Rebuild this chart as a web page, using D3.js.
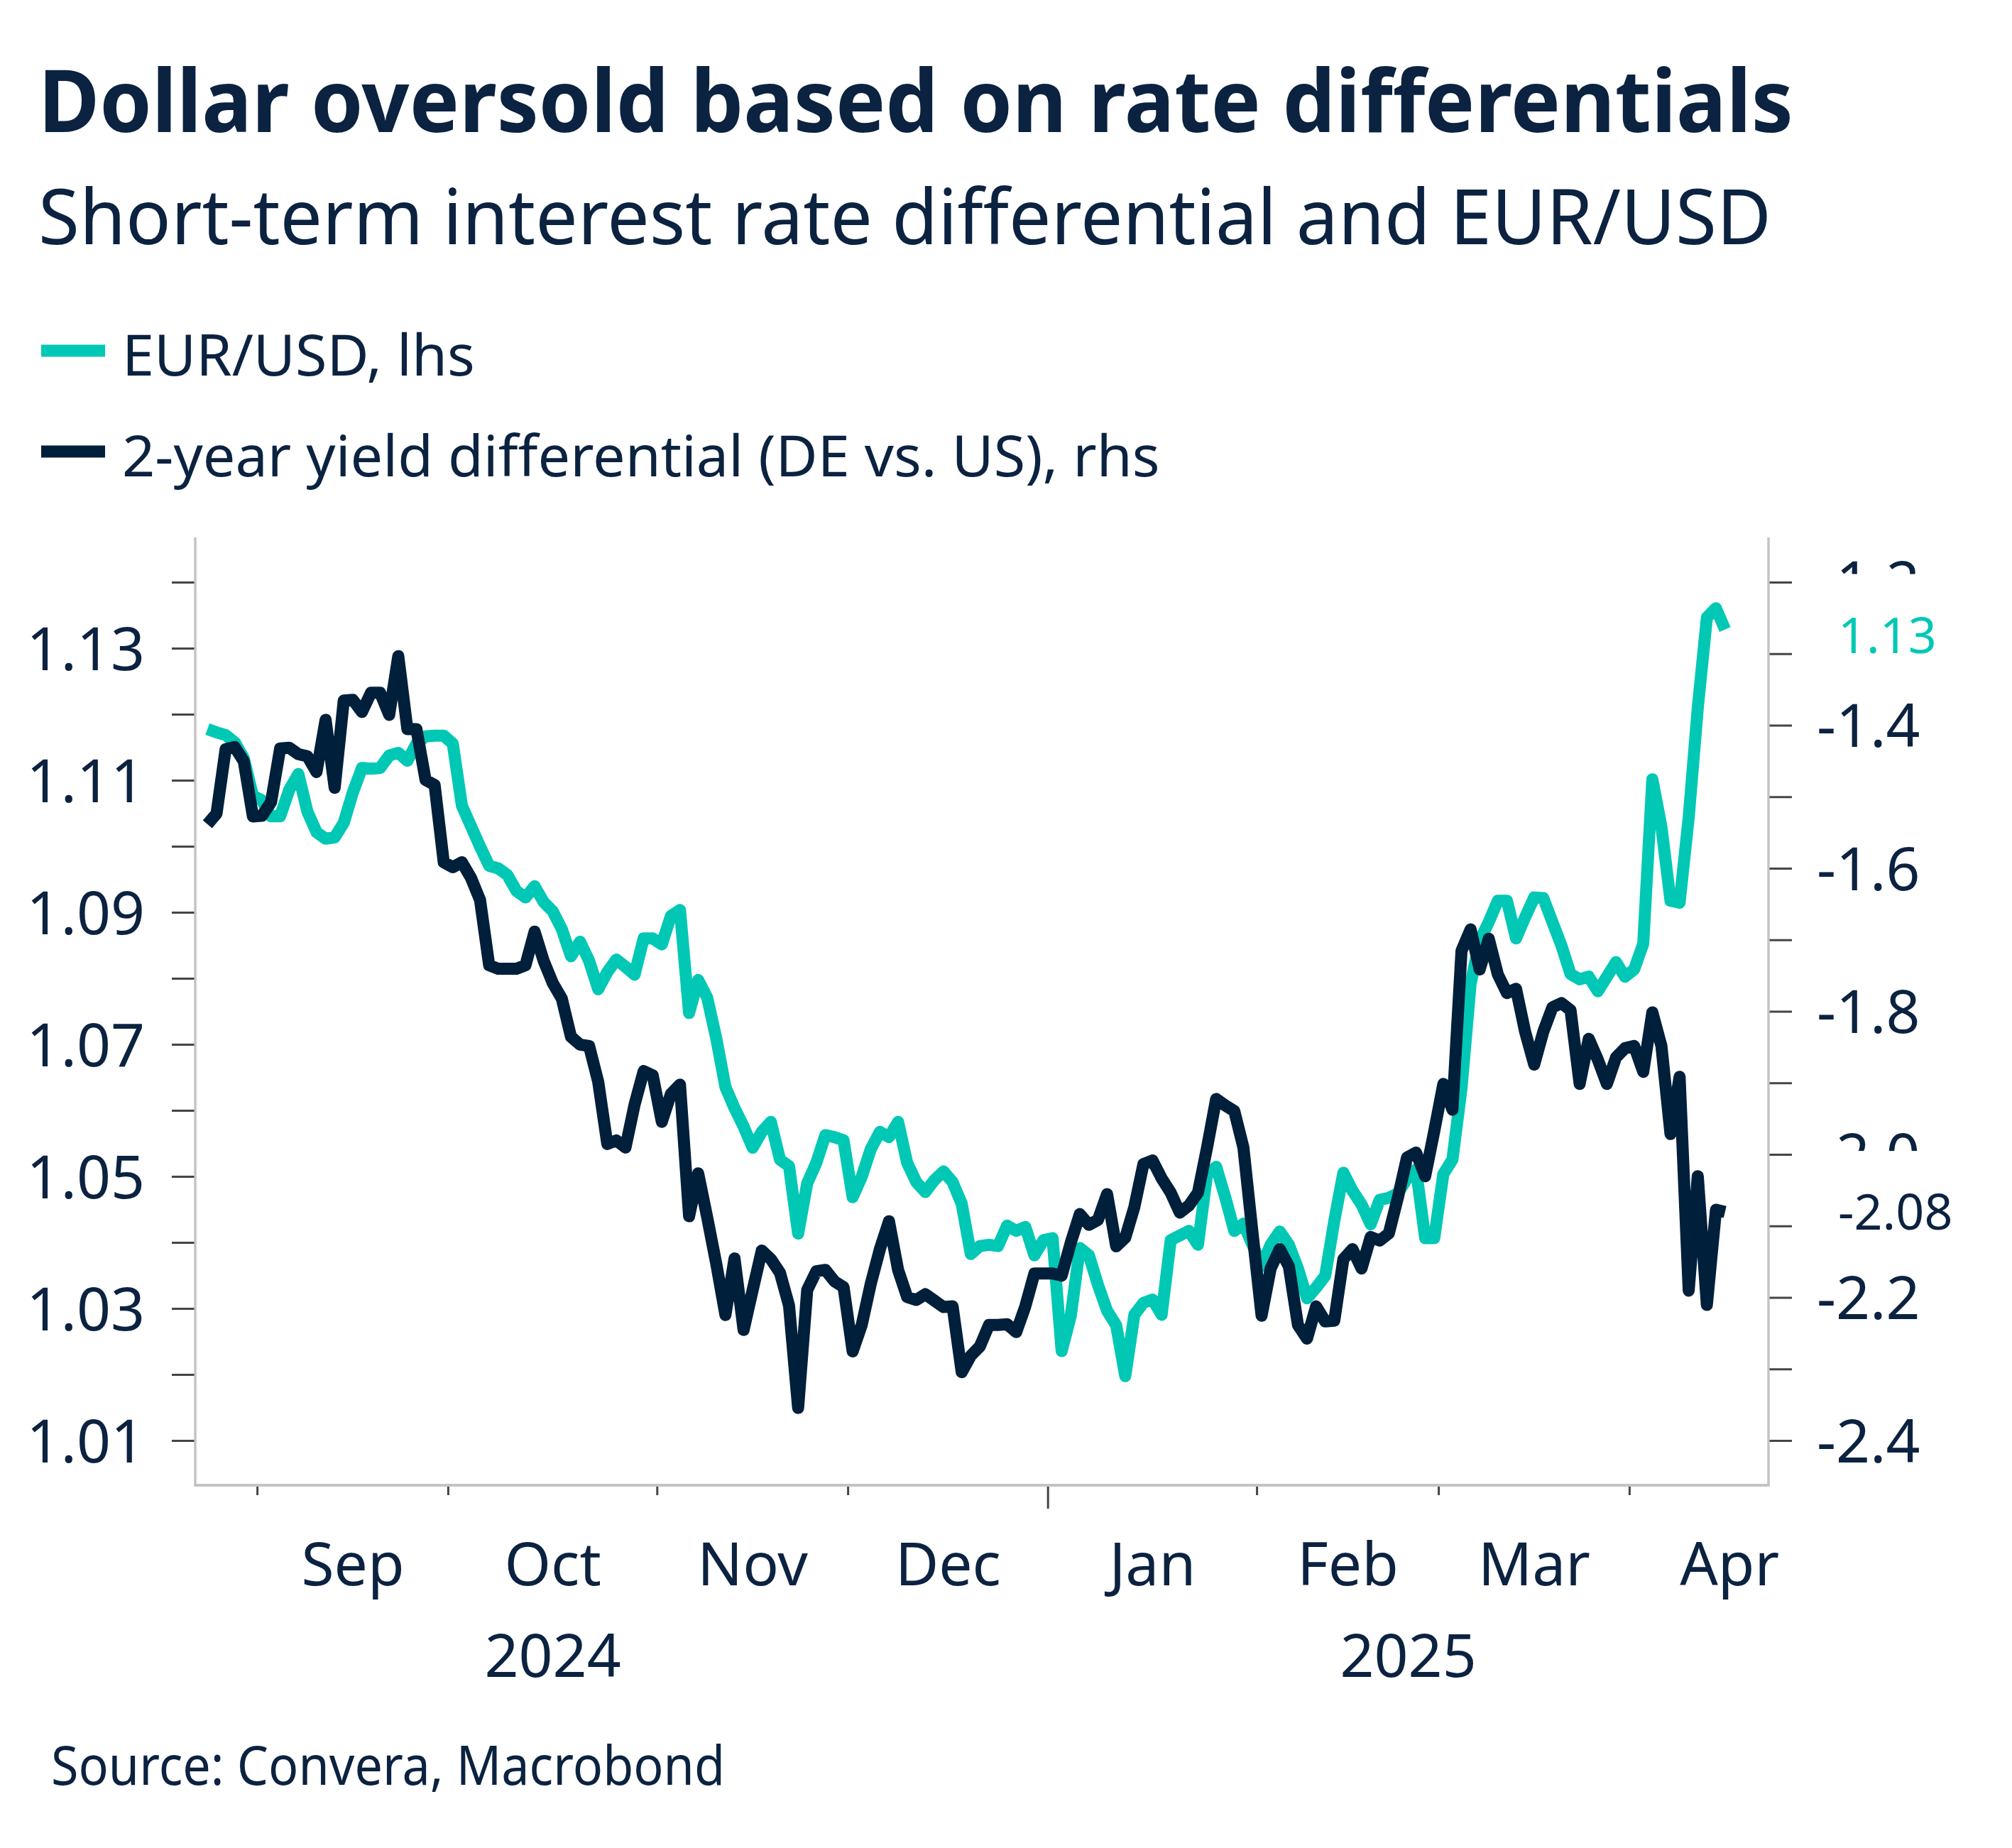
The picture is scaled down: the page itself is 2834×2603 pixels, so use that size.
<!DOCTYPE html>
<html>
<head>
<meta charset="utf-8">
<script src="https://cdn.jsdelivr.net/npm/d3@7"></script>
<style>
  body { margin: 0; background: #ffffff; }
  text { font-family: "Noto Sans", "Open Sans", sans-serif; }
</style>
</head>
<body>
<div id="chart"></div>
<script>
// ---- data (one value per business day, 2024-08-23 .. 2025-04-15) ----
var startDate = "2024-08-23";
var calendarEnd = "2025-04-30";
var monthLabels = ["Sep", "Oct", "Nov", "Dec", "Jan", "Feb", "Mar", "Apr"];
var yearLabels = ["2024", "2025"];

// EUR/USD, lhs
var eurusd = [
  1.1178, 1.1173, 1.1169, 1.1158, 1.1134, 1.1077, 1.1070, 1.1046, 1.1046, 1.1086,
  1.1110, 1.1053, 1.1022, 1.1012, 1.1014, 1.1036, 1.1082, 1.1119, 1.1118, 1.1119,
  1.1138, 1.1142, 1.1130, 1.1156, 1.1167, 1.1168, 1.1168, 1.1156, 1.1062, 1.1031,
  1.1000, 1.0971, 1.0967, 1.0957, 1.0933, 1.0923, 1.0940, 1.0916, 1.0902, 1.0875,
  1.0834, 1.0856, 1.0827,
  1.0784, 1.0810, 1.0829, 1.0818, 1.0806, 1.0861, 1.0861, 1.0852, 1.0895, 1.0904,
  1.0748, 1.0798, 1.0771, 1.0709, 1.0636, 1.0604, 1.0576, 1.0544, 1.0568, 1.0583,
  1.0526, 1.0516, 1.0414, 1.0490, 1.0521, 1.0563, 1.0560, 1.0555, 1.0469, 1.0500,
  1.0542, 1.0568, 1.0560, 1.0583, 1.0521, 1.0492, 1.0477, 1.0495, 1.0508, 1.0492,
  1.0459, 1.0383, 1.0395,
  1.0397, 1.0395, 1.0426, 1.0418, 1.0424, 1.0381, 1.0404, 1.0407, 1.0236, 1.0289,
  1.0392, 1.0381, 1.0336, 1.0297, 1.0275, 1.0198, 1.0291, 1.0309, 1.0314, 1.0291,
  1.0404, 1.0411, 1.0418, 1.0397, 1.0504, 1.0515, 1.0469, 1.0418, 1.0429, 1.0397,
  1.0365, 1.0397, 1.0417, 1.0397, 1.0361, 1.0316, 1.0332, 1.0350, 1.0433, 1.0506,
  1.0479, 1.0458, 1.0428,
  1.0465, 1.0468, 1.0475, 1.0497, 1.0511, 1.0407, 1.0407, 1.0504, 1.0526, 1.0634,
  1.0792, 1.0857, 1.0886, 1.0918, 1.0918, 1.0861, 1.0893, 1.0923, 1.0922, 1.0886,
  1.0850, 1.0807, 1.0799, 1.0803, 1.0781, 1.0803, 1.0825, 1.0803, 1.0814, 1.0853,
  1.1102, 1.1030, 1.0918, 1.0915, 1.1044, 1.1210, 1.1347, 1.1361, 1.1329
];

// 2-year yield differential (DE vs. US), rhs
var yieldDiff = [
  -1.538, -1.523, -1.433, -1.430, -1.450, -1.527, -1.526, -1.507, -1.432, -1.431,
  -1.440, -1.443, -1.465, -1.392, -1.487, -1.365, -1.364, -1.381, -1.354, -1.354,
  -1.385, -1.303, -1.405, -1.405, -1.476, -1.483, -1.591, -1.598, -1.591, -1.613,
  -1.644, -1.735, -1.740, -1.740, -1.740, -1.735, -1.688, -1.729, -1.760, -1.782,
  -1.835, -1.846, -1.848,
  -1.898, -1.985, -1.980, -1.990, -1.930, -1.883, -1.889, -1.954, -1.915, -1.902,
  -2.086, -2.026, -2.088, -2.153, -2.224, -2.145, -2.245, -2.189, -2.134, -2.146,
  -2.165, -2.211, -2.354, -2.189, -2.163, -2.161, -2.177, -2.185, -2.275, -2.238,
  -2.180, -2.132, -2.093, -2.161, -2.199, -2.203, -2.195, -2.204, -2.213, -2.212,
  -2.304, -2.281, -2.268,
  -2.238, -2.238, -2.237, -2.248, -2.212, -2.166, -2.166, -2.166, -2.169, -2.123,
  -2.083, -2.098, -2.091, -2.055, -2.128, -2.116, -2.073, -2.013, -2.008, -2.033,
  -2.053, -2.081, -2.071, -2.053, -1.990, -1.922, -1.931, -1.939, -1.990, -2.109,
  -2.225, -2.159, -2.132, -2.156, -2.238, -2.257, -2.212, -2.233, -2.232, -2.146,
  -2.132, -2.159, -2.115,
  -2.120, -2.110, -2.060, -2.004, -1.997, -2.030, -1.967, -1.901, -1.937, -1.715,
  -1.685, -1.741, -1.698, -1.748, -1.774, -1.768, -1.828, -1.874, -1.828, -1.794,
  -1.788, -1.798, -1.901, -1.838, -1.867, -1.901, -1.864, -1.851, -1.848, -1.884,
  -1.801, -1.848, -1.971, -1.891, -2.190, -2.030, -2.210, -2.077, -2.080
];

var leftTicks = [1.01, 1.02, 1.03, 1.04, 1.05, 1.06, 1.07, 1.08, 1.09, 1.10, 1.11, 1.12, 1.13, 1.14];
var leftLabels = [1.01, 1.03, 1.05, 1.07, 1.09, 1.11, 1.13];
var rightTicks = [-2.4, -2.3, -2.2, -2.1, -2.0, -1.9, -1.8, -1.7, -1.6, -1.5, -1.4, -1.3, -1.2];
var rightLabels = [-2.4, -2.2, -2.0, -1.8, -1.6, -1.4, -1.2];

// ---- layout ----
var W = 2834, H = 2603;
var textCol = "#0b2240";
var navyCol = "#001f3b";
var tealCol = "#00c8b4";
var frameCol = "#c4c4c4";
var tickCol = "#454545";

var plotL = 275, plotR = 2491, plotT = 757, plotB = 2092;

var svg = d3.select("#chart").append("svg")
  .attr("width", W)
  .attr("height", H);

svg.append("rect")
  .attr("width", W).attr("height", H)
  .attr("fill", "#ffffff");

// fit a text element to a target width
function fitText(sel, w) {
  var n = sel.node().getComputedTextLength();
  if (Math.abs(n - w) / w > 0.02) {
    sel.attr("textLength", w).attr("lengthAdjust", "spacingAndGlyphs");
  }
}

// title, subtitle
var title = svg.append("text")
  .attr("x", 54).attr("y", 186)
  .attr("font-size", 122).attr("font-weight", 700)
  .attr("fill", textCol)
  .text("Dollar oversold based on rate differentials");
fitText(title, 2472);

var sub = svg.append("text")
  .attr("x", 54).attr("y", 344)
  .attr("font-size", 108)
  .attr("fill", textCol)
  .text("Short-term interest rate differential and EUR/USD");
fitText(sub, 2441);

// legend
var legendItems = [
  { name: "EUR/USD, lhs", color: tealCol, y: 494, w: 506 },
  { name: "2-year yield differential (DE vs. US), rhs", color: navyCol, y: 636, w: 1479 }
];
legendItems.forEach(function (d) {
  svg.append("rect")
    .attr("x", 58).attr("y", d.y - 8.5)
    .attr("width", 90).attr("height", 17)
    .attr("fill", d.color);
  var t = svg.append("text")
    .attr("x", 172).attr("y", d.y + 35)
    .attr("font-size", 81)
    .attr("fill", textCol)
    .text(d.name);
  fitText(t, d.w);
});

// ---- scales ----
var days = d3.utcDay.range(d3.utcParse("%Y-%m-%d")(startDate),
    d3.utcDay.offset(d3.utcParse("%Y-%m-%d")(calendarEnd), 1))
  .filter(function (d) { return d.getUTCDay() !== 0 && d.getUTCDay() !== 6; });

var x = d3.scaleLinear()
  .domain([0, eurusd.length - 1])
  .range([292.2, 292.2 + 12.8 * (eurusd.length - 1)]);

var yL = d3.scaleLinear().domain([1.01, 1.14]).range([2029.5, 820.5]);
var yR = d3.scaleLinear().domain([-2.4, -1.2]).range([2029.5, 820.5]);

// ---- frame ----
svg.append("line")
  .attr("x1", plotL).attr("y1", plotT).attr("x2", plotL).attr("y2", plotB)
  .attr("stroke", frameCol).attr("stroke-width", 3.5);
svg.append("line")
  .attr("x1", plotR).attr("y1", plotT).attr("x2", plotR).attr("y2", plotB)
  .attr("stroke", frameCol).attr("stroke-width", 3.5);
svg.append("line")
  .attr("x1", plotL - 1.75).attr("y1", plotB).attr("x2", plotR + 1.75).attr("y2", plotB)
  .attr("stroke", frameCol).attr("stroke-width", 4);

// left axis
var gL = svg.append("g").attr("transform", "translate(" + plotL + ",0)");
gL.selectAll("line.tk").data(leftTicks).enter().append("line")
  .attr("x1", -33).attr("x2", -1.5)
  .attr("y1", function (d) { return yL(d); })
  .attr("y2", function (d) { return yL(d); })
  .attr("stroke", tickCol).attr("stroke-width", 3);
gL.selectAll("text").data(leftLabels).enter().append("text")
  .attr("x", -71)
  .attr("y", function (d) { return yL(d); })
  .attr("dy", "0.36em")
  .attr("text-anchor", "end")
  .attr("font-size", 84)
  .attr("fill", textCol)
  .text(d3.format(".2f"));

// right axis
var gR = svg.append("g").attr("transform", "translate(" + plotR + ",0)");
gR.selectAll("line.tk").data(rightTicks).enter().append("line")
  .attr("x1", 1.5).attr("x2", 33)
  .attr("y1", function (d) { return yR(d); })
  .attr("y2", function (d) { return yR(d); })
  .attr("stroke", tickCol).attr("stroke-width", 3);
gR.selectAll("text").data(rightLabels).enter().append("text")
  .attr("x", 68)
  .attr("y", function (d) { return yR(d); })
  .attr("dy", "0.36em")
  .attr("font-size", 84)
  .attr("fill", textCol)
  .text(function (d) { return d3.format(".1f")(d).replace("\u2212", "-"); });

// x axis: month ticks and labels
var months = d3.groups(days.map(function (d, i) { return { d: d, i: i }; }),
  function (o) { return d3.utcMonth(o.d).getTime(); });
var gX = svg.append("g");
months.forEach(function (m, k) {
  var first = m[1][0].i, last = m[1][m[1].length - 1].i;
  var isYear = m[1][0].d.getUTCMonth() === 0;
  if (k > 0) {
    gX.append("line")
      .attr("x1", x(first - 0.5)).attr("x2", x(first - 0.5))
      .attr("y1", plotB + 2).attr("y2", plotB + (isYear ? 33 : 14))
      .attr("stroke", tickCol).attr("stroke-width", 3);
    gX.append("text")
      .attr("x", x((first + last) / 2)).attr("y", 2233)
      .attr("text-anchor", "middle")
      .attr("font-size", 84)
      .attr("fill", textCol)
      .text(monthLabels[k - 1]);
  }
});

// year labels
var octMid = months[2][1], janFirst = months[5][1][0].i;
gX.append("text")
  .attr("x", x((octMid[0].i + octMid[octMid.length - 1].i) / 2)).attr("y", 2362)
  .attr("text-anchor", "middle").attr("font-size", 84).attr("fill", textCol)
  .text(yearLabels[0]);
gX.append("text")
  .attr("x", (x(janFirst - 0.5) + plotR) / 2).attr("y", 2362)
  .attr("text-anchor", "middle").attr("font-size", 84).attr("fill", textCol)
  .text(yearLabels[1]);

// ---- series ----
var lineL = d3.line()
  .x(function (d, i) { return x(i); })
  .y(function (d) { return yL(d); });
var lineR = d3.line()
  .x(function (d, i) { return x(i); })
  .y(function (d) { return yR(d); });

svg.append("path").datum(eurusd)
  .attr("d", lineL)
  .attr("fill", "none").attr("stroke", tealCol).attr("stroke-width", 17)
  .attr("stroke-linejoin", "round");
svg.append("path").datum(yieldDiff)
  .attr("d", lineR)
  .attr("fill", "none").attr("stroke", navyCol).attr("stroke-width", 17)
  .attr("stroke-linejoin", "round");

// last-value labels (white box hides axis text underneath)
var lastL = eurusd[eurusd.length - 1], lastR = yieldDiff[yieldDiff.length - 1];
[
  { y: yL(lastL) + 8, col: tealCol, txt: d3.format(".2f")(lastL) },
  { y: yR(lastR), col: textCol, txt: d3.format(".2f")(lastR).replace("\u2212", "-") }
].forEach(function (d) {
  svg.append("rect")
    .attr("x", 2540).attr("y", d.y - 86)
    .attr("width", 294).attr("height", 172)
    .attr("fill", "#ffffff");
  svg.append("text")
    .attr("x", 2589).attr("y", d.y)
    .attr("dy", "0.36em")
    .attr("font-size", 70)
    .attr("fill", d.col)
    .text(d.txt);
});

// source
var src = svg.append("text")
  .attr("x", 72).attr("y", 2514)
  .attr("font-size", 76)
  .attr("fill", textCol)
  .text("Source: Convera, Macrobond");
fitText(src, 949);
</script>
</body>
</html>
